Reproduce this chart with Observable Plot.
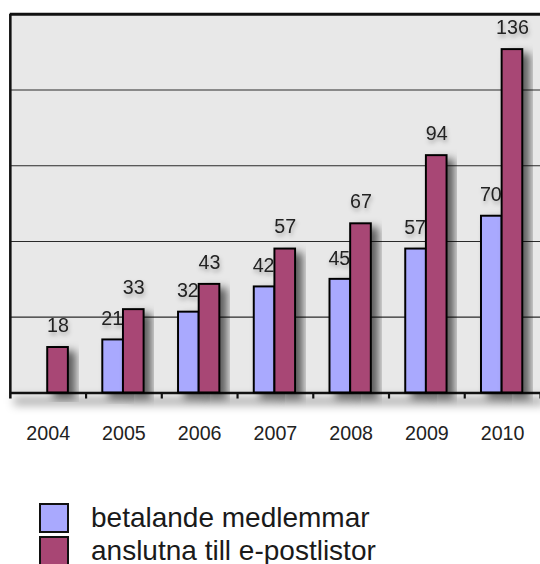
<!DOCTYPE html>
<html>
<head>
<meta charset="utf-8">
<script src="https://cdn.jsdelivr.net/npm/d3@7"></script>
<script src="https://cdn.jsdelivr.net/npm/@observablehq/plot@0.6"></script>
<style>
  html, body { margin: 0; padding: 0; background: #fff; overflow: hidden; width: 540px; height: 564px; }
  #chart { height: 495px; overflow: hidden; }
  #chart svg { display: block; }
  #legend { height: 69px; overflow: hidden; padding-top: 6px; box-sizing: border-box; font-family: "Liberation Sans", Helvetica, Arial, sans-serif; font-size: 28px; line-height: 30px; color: #1a1a1a; }
  .item { display: flex; align-items: center; height: 33px; }
  .sw { width: 26px; height: 26px; border: 2px solid #111; margin-left: 39px; margin-right: 22px; flex: none; }
</style>
</head>
<body>
<div id="chart"></div>
<div id="legend"></div>
<script>
const years = ["2004", "2005", "2006", "2007", "2008", "2009", "2010"];
const betalande = [null, 21, 32, 42, 45, 57, 70];
const anslutna = [18, 33, 43, 57, 67, 94, 136];
const gridTicks = [30, 60, 90, 120];
const seriesNames = ["betalande medlemmar", "anslutna till e-postlistor"];
const seriesColors = ["#a9a9fe", "#a84674"];

const dataB = years.map((y, i) => ({year: y, value: betalande[i]})).filter(d => d.value != null);
const dataA = years.map((y, i) => ({year: y, value: anslutna[i]}));

const font = "'Liberation Sans', Helvetica, Arial, sans-serif";

const plot = Plot.plot({
  width: 549,
  height: 495,
  marginLeft: 10,
  marginRight: 0,
  marginTop: 14,
  marginBottom: 96,
  style: {fontFamily: font, fontSize: "20px", color: "#222", background: "transparent", overflow: "hidden"},
  x: {domain: years, padding: 0, label: null},
  y: {domain: [0, 150], axis: null},
  marks: [
    Plot.frame({fill: "#e8e8e8", stroke: "none"}),
    Plot.ruleY(gridTicks, {stroke: "#2a2a2a", strokeWidth: 1.2}),
    Plot.ruleY([0], {stroke: "#000", strokeWidth: 8, strokeOpacity: 0.35, className: "shadowed-line"}),
    Plot.ruleY([0], {stroke: "#111", strokeWidth: 2.6}),
    Plot.ruleX([years[0]], {dx: -38.5, y1: -2.4, y2: 150, stroke: "#111", strokeWidth: 2.6}),
    Plot.ruleX(years, {dx: 38.5, y1: -2.4, y2: 0, stroke: "#111", strokeWidth: 2.2}),
    Plot.barY(dataB, {x: "year", y: "value", fill: seriesColors[0], stroke: "#000", strokeWidth: 2, insetLeft: 17, insetRight: 39, className: "shadowed"}),
    Plot.text(dataB, {x: "year", y: "value", text: d => String(d.value), dx: -12, dy: -15, lineAnchor: "bottom", fontSize: 20, fill: "#222", className: "tshadow"}),
    Plot.barY(dataA, {x: "year", y: "value", fill: seriesColors[1], stroke: "#000", strokeWidth: 2, insetLeft: 38, insetRight: 18, className: "shadowed"}),
    Plot.text(dataA, {x: "year", y: "value", text: d => String(d.value), dx: 10, dy: -16, lineAnchor: "bottom", fontSize: 20, fill: "#222", className: "tshadow"}),
    Plot.ruleY([150], {stroke: "#111", strokeWidth: 3}),
    Plot.axisX({tickSize: 0, tickPadding: 34, fontSize: 20, label: null, fill: "#222"})
  ]
});

// drop-shadow filters
const svg = d3.select(plot);
const defs = svg.insert("defs", ":first-child");
const f1 = defs.append("filter").attr("id", "barShadow").attr("x", "-50%").attr("y", "-20%").attr("width", "200%").attr("height", "140%");
f1.append("feDropShadow").attr("dx", 7).attr("dy", 5).attr("stdDeviation", 4.5).attr("flood-color", "#000").attr("flood-opacity", 0.6);
const f2 = defs.append("filter").attr("id", "textShadow").attr("x", "-30%").attr("y", "-30%").attr("width", "160%").attr("height", "180%");
f2.append("feDropShadow").attr("dx", 1).attr("dy", 3).attr("stdDeviation", 2).attr("flood-color", "#000").attr("flood-opacity", 0.3);
const f3 = defs.append("filter").attr("id", "lineBlur").attr("filterUnits", "userSpaceOnUse")
  .attr("x", 0).attr("y", 350).attr("width", 560).attr("height", 100);
f3.append("feOffset").attr("dx", 4).attr("dy", 8).attr("in", "SourceGraphic").attr("result", "o");
f3.append("feGaussianBlur").attr("in", "o").attr("stdDeviation", 5);
svg.selectAll(".shadowed rect, rect.shadowed").attr("filter", "url(#barShadow)");
svg.selectAll(".tshadow text, text.tshadow").attr("filter", "url(#textShadow)");
svg.selectAll(".shadowed-line line, line.shadowed-line").attr("filter", "url(#lineBlur)");

document.getElementById("chart").appendChild(plot);

const legend = d3.select("#legend");
seriesNames.forEach((name, i) => {
  const item = legend.append("div").attr("class", "item");
  item.append("div").attr("class", "sw").style("background", seriesColors[i]);
  item.append("span").text(name);
});
</script>
</body>
</html>
